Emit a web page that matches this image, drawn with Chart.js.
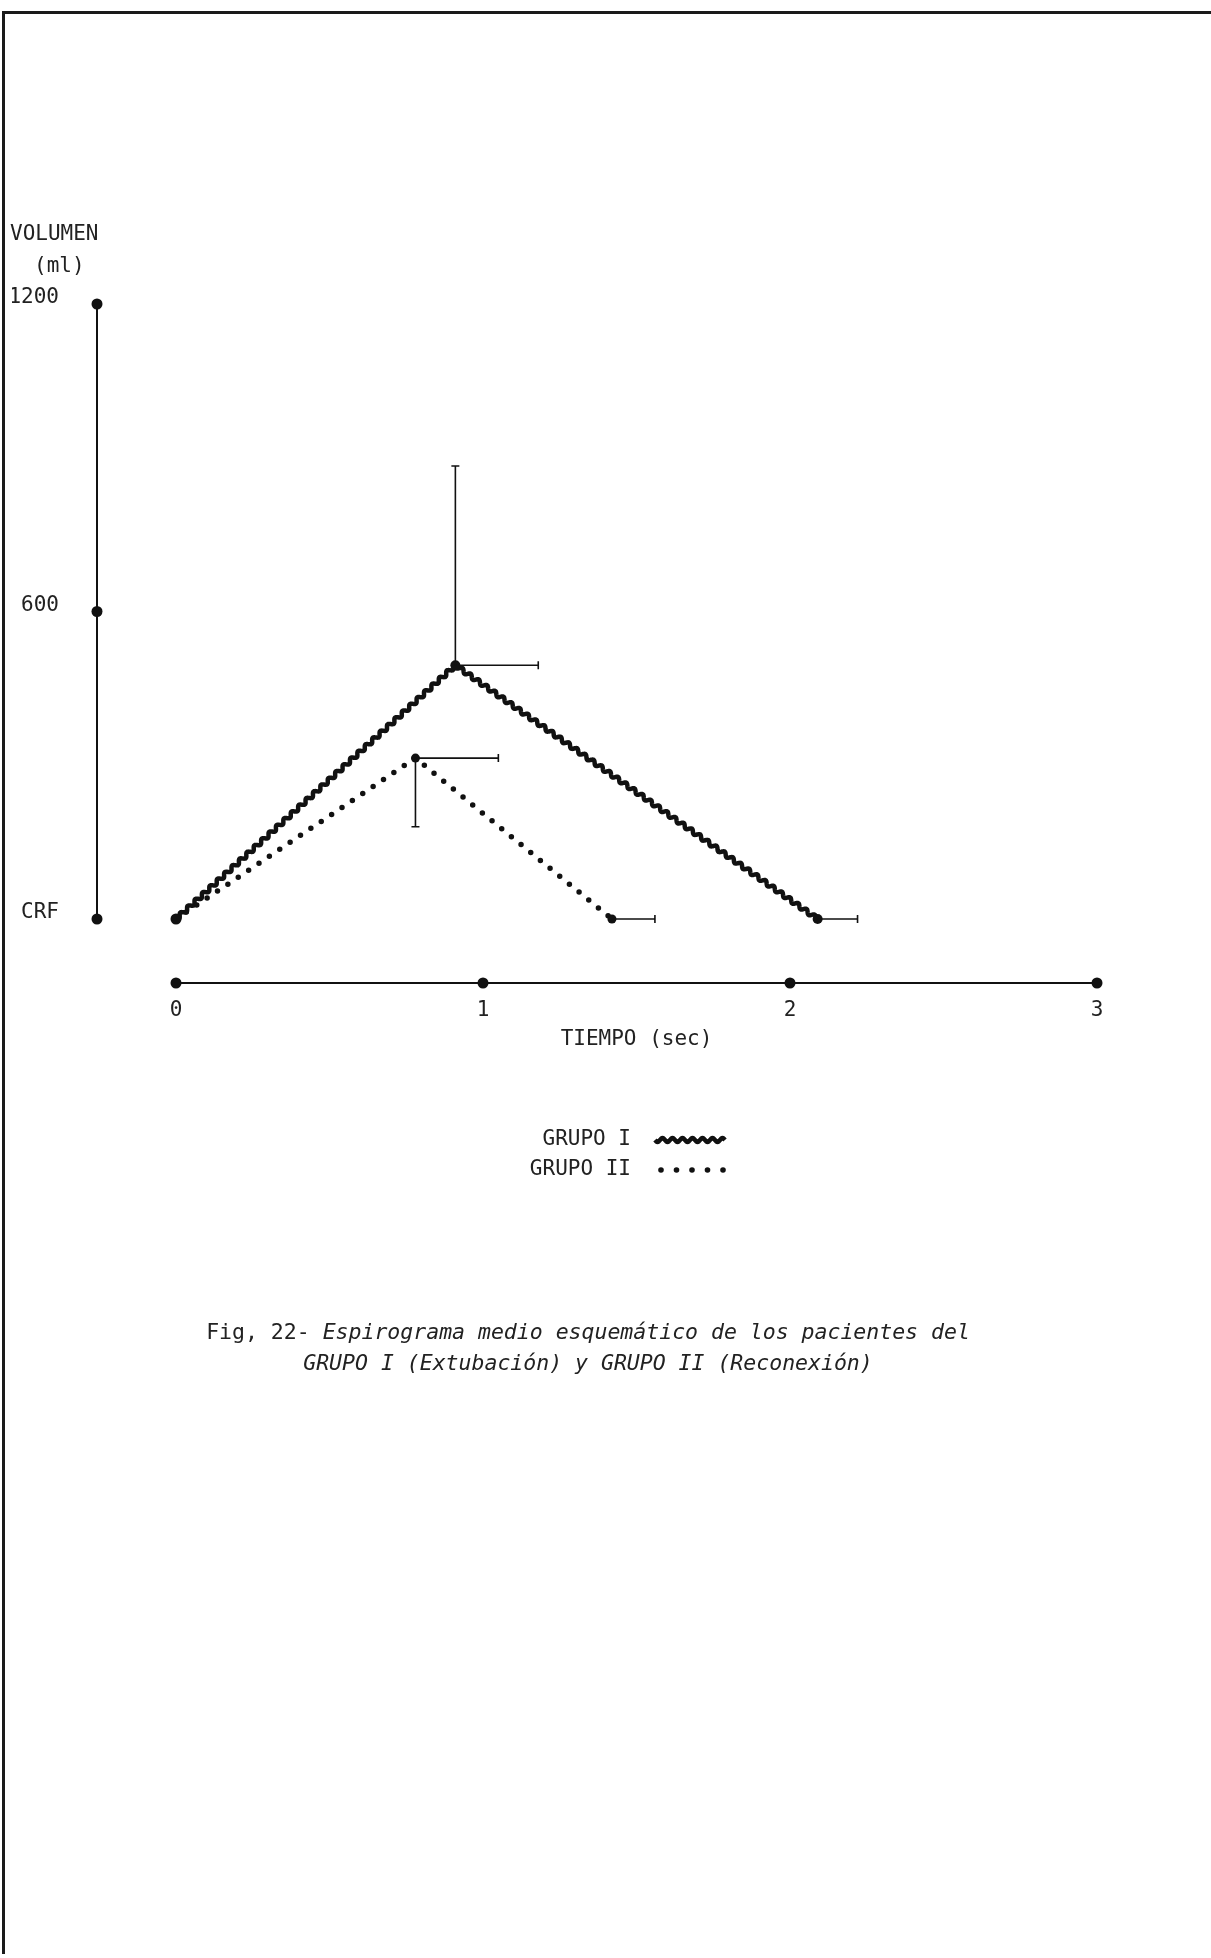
<!DOCTYPE html>
<html lang="es">
<head>
<meta charset="utf-8">
<title>Fig. 22 - Espirograma medio esquemático</title>
<script src="https://cdn.jsdelivr.net/npm/chart.js@4.4.1/dist/chart.umd.min.js"></script>
<style>
    html, body { margin: 0; padding: 0; background: #fff; }
    body { position: relative; width: 1211px; height: 1958px; overflow: hidden; font-family: "DejaVu Sans Mono", "Liberation Mono", monospace; color: #222; }
    #hoja { position: absolute; left: 2px; top: 11px; width: 1211px; height: 1940px; border-top: 3px solid #1a1a1a; border-left: 3px solid #1a1a1a; }
    #grafico { position: absolute; left: 0; top: 0; }
    .rotulo { position: absolute; font-size: 21px; line-height: 24px; white-space: pre; }
    #pie { position: absolute; left: 188px; top: 1316px; width: 800px; text-align: center; font-size: 21.5px; line-height: 31px; white-space: pre; }
    #pie i { font-style: oblique; }
</style>
</head>
<body>
<div id="hoja"></div>
<canvas id="grafico" width="1211" height="1958"></canvas>
<div class="rotulo" style="left:10px; top:221px;">VOLUMEN</div>
<div class="rotulo" style="left:34px; top:253px;">(ml)</div>
<div id="pie">Fig, 22- <i>Espirograma medio esquemático de los pacientes del</i>
<i>GRUPO I (Extubación) y GRUPO II (Reconexión)</i></div>

<script>
// --- Datos ---
const grupos = ['GRUPO I', 'GRUPO II'];

// GRUPO I (Extubacion): inicio, pico, fin
const tiempoI = [0, 0.91, 2.09];
const volumenI = [0, 495, 0];
// extremo de las barras de error (tiempo a la derecha, volumen hacia arriba)
const errTiempoI = [null, 1.18, 2.22];
const errVolumenI = [null, 884, null];

// GRUPO II (Reconexion)
const tiempoII = [0, 0.78, 1.42];
const volumenII = [0, 314, 0];
const errTiempoII = [null, 1.05, 1.56];
const errVolumenII = [null, 180, null];

// ejes
const ticksVolumen = [0, 600, 1200];
const etiquetasVolumen = ['CRF', '600', '1200'];
const ticksTiempo = [0, 1, 2, 3];

const tinta = '#111';
const fuente = 'DejaVu Sans Mono';

function puntos(xs, ys) {
    return xs.map((x, i) => ({ x: x, y: ys[i] }));
}

// linea ondulada (GRUPO I)
function trazoOndulado(ctx, x0, y0, x1, y1) {
    const dx = x1 - x0, dy = y1 - y0;
    const largo = Math.hypot(dx, dy);
    const ux = dx / largo, uy = dy / largo;
    const nx = -uy, ny = ux;
    const amp = 1.9, periodo = 10;
    for (let s = 0; s <= largo; s += 0.5) {
        const off = amp * Math.sin(2 * Math.PI * s / periodo);
        const px = x0 + ux * s + nx * off;
        const py = y0 + uy * s + ny * off;
        if (s === 0) ctx.moveTo(px, py); else ctx.lineTo(px, py);
    }
}

const dibujoExtra = {
    id: 'dibujoExtra',
    beforeDatasetsDraw(chart) {
        const ctx = chart.ctx;
        const pts = chart.getDatasetMeta(0).data;
        ctx.save();
        ctx.strokeStyle = tinta;
        ctx.lineWidth = 4.5;
        ctx.lineJoin = 'round';
        ctx.beginPath();
        for (let i = 1; i < pts.length; i++) {
            trazoOndulado(ctx, pts[i - 1].x, pts[i - 1].y, pts[i].x, pts[i].y);
        }
        ctx.stroke();
        ctx.restore();
    },
    afterDatasetsDraw(chart) {
        const ctx = chart.ctx;
        const sx = chart.scales.x, sy = chart.scales.y;
        const area = chart.chartArea;
        ctx.save();
        ctx.strokeStyle = tinta;
        ctx.fillStyle = tinta;

        // eje de volumen, separado a la izquierda
        const ejeX = area.left - 79;
        ctx.lineWidth = 2;
        ctx.beginPath();
        ctx.moveTo(ejeX, sy.getPixelForValue(ticksVolumen[0]));
        ctx.lineTo(ejeX, sy.getPixelForValue(ticksVolumen[ticksVolumen.length - 1]));
        ctx.stroke();
        ticksVolumen.forEach(v => {
            ctx.beginPath();
            ctx.arc(ejeX, sy.getPixelForValue(v), 5.5, 0, Math.PI * 2);
            ctx.fill();
        });

        // eje de tiempo, separado hacia abajo
        const ejeY = area.bottom + 64;
        ctx.lineWidth = 1.8;
        ctx.beginPath();
        ctx.moveTo(sx.getPixelForValue(ticksTiempo[0]), ejeY);
        ctx.lineTo(sx.getPixelForValue(ticksTiempo[ticksTiempo.length - 1]), ejeY);
        ctx.stroke();
        ticksTiempo.forEach(t => {
            ctx.beginPath();
            ctx.arc(sx.getPixelForValue(t), ejeY, 5.5, 0, Math.PI * 2);
            ctx.fill();
        });

        // barras de error
        ctx.lineWidth = 1.6;
        const barras = [
            [tiempoI, volumenI, errTiempoI, errVolumenI],
            [tiempoII, volumenII, errTiempoII, errVolumenII]
        ];
        barras.forEach(([ts, vs, ets, evs]) => {
            ts.forEach((t, i) => {
                const px = sx.getPixelForValue(t), py = sy.getPixelForValue(vs[i]);
                if (ets[i] !== null) {
                    const ex = sx.getPixelForValue(ets[i]);
                    ctx.beginPath();
                    ctx.moveTo(px, py); ctx.lineTo(ex, py);
                    ctx.moveTo(ex, py - 4); ctx.lineTo(ex, py + 4);
                    ctx.stroke();
                }
                if (evs[i] !== null) {
                    const ey = sy.getPixelForValue(evs[i]);
                    ctx.beginPath();
                    ctx.moveTo(px, py); ctx.lineTo(px, ey);
                    ctx.moveTo(px - 4, ey); ctx.lineTo(px + 4, ey);
                    ctx.stroke();
                }
            });
        });

        // leyenda
        const ds = chart.data.datasets;
        ctx.font = '21px "' + fuente + '"';
        ctx.textAlign = 'right';
        ctx.textBaseline = 'middle';
        ctx.fillStyle = '#222';
        ctx.fillText(ds[0].label, 631, 1140);
        ctx.fillText(ds[1].label, 631, 1170);
        ctx.strokeStyle = tinta;
        ctx.lineWidth = 4.5;
        ctx.beginPath();
        trazoOndulado(ctx, 655, 1140, 725, 1140);
        ctx.stroke();
        ctx.fillStyle = tinta;
        for (let k = 0; k < 5; k++) {
            ctx.beginPath();
            ctx.arc(661 + k * 15.5, 1170, 2.8, 0, Math.PI * 2);
            ctx.fill();
        }
        ctx.restore();
    }
};

Chart.defaults.font.family = fuente;
Chart.defaults.color = '#222';

new Chart(document.getElementById('grafico'), {
    type: 'line',
    data: {
        datasets: [
            {
                label: grupos[0],
                data: puntos(tiempoI, volumenI),
                showLine: false,
                pointRadius: [5.5, 5, 5],
                pointBackgroundColor: tinta,
                pointBorderWidth: 0,
                clip: false
            },
            {
                label: grupos[1],
                data: puntos(tiempoII, volumenII),
                borderColor: tinta,
                borderWidth: 5.5,
                borderDash: [0, 12.5],
                borderCapStyle: 'round',
                pointRadius: [0, 4.5, 4.5],
                pointBackgroundColor: tinta,
                pointBorderWidth: 0,
                clip: false
            }
        ]
    },
    options: {
        responsive: false,
        devicePixelRatio: 1,
        animation: false,
        events: [],
        layout: { padding: { top: 304, left: 12, right: 114, bottom: 899 } },
        plugins: { legend: { display: false }, tooltip: { enabled: false } },
        scales: {
            x: {
                type: 'linear',
                min: 0,
                max: 3,
                afterBuildTicks: s => { s.ticks = ticksTiempo.map(v => ({ value: v })); },
                afterFit: s => { s.height = 140; },
                grid: { display: false, drawTicks: false },
                border: { display: false },
                ticks: { padding: 79, font: { size: 21 }, color: '#222' },
                title: { display: true, text: 'TIEMPO (sec)', font: { size: 21 }, color: '#222', padding: { top: 0, bottom: 7 } }
            },
            y: {
                type: 'linear',
                min: 0,
                max: 1200,
                afterBuildTicks: s => { s.ticks = ticksVolumen.map(v => ({ value: v })); },
                afterFit: s => { s.width = 164; },
                grid: { display: false, drawTicks: false },
                border: { display: false },
                ticks: {
                    padding: 117,
                    labelOffset: -6,
                    font: { size: 21 },
                    color: '#222',
                    callback: v => etiquetasVolumen[ticksVolumen.indexOf(v)]
                }
            }
        }
    },
    plugins: [dibujoExtra]
});
</script>
</body>
</html>
